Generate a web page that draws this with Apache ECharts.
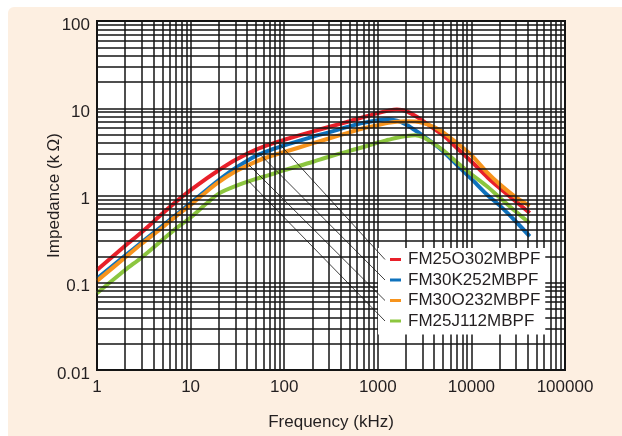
<!DOCTYPE html>
<html>
<head>
<meta charset="utf-8">
<script src="https://cdn.jsdelivr.net/npm/echarts@6/dist/echarts.min.js"></script>
<style>
html,body{margin:0;padding:0;background:#fff;}
#bg{position:absolute;left:8px;top:7px;width:614px;height:429px;background:#fdefe1;border-top-left-radius:6px;}
#chart{position:absolute;left:0;top:0;width:622px;height:436px;}
</style>
</head>
<body>
<div id="bg"></div>
<div id="chart"></div>
<script>
// ---- data ----
const freq   = [1, 2, 3, 5, 7, 10, 15, 20, 30, 50, 70, 100, 200, 300, 500, 700, 1000, 1300, 1600, 2000, 2500, 3000, 4000, 5000, 7000, 10000, 15000, 20000, 30000, 42000];
const red    = [0.14, 0.265, 0.38, 0.62, 0.85, 1.15, 1.58, 1.95, 2.55, 3.35, 3.85, 4.35, 5.4, 6.1, 7.1, 7.9, 8.8, 9.4, 9.7, 9.3, 8.2, 7.2, 5.8, 4.9, 3.5, 2.45, 1.6, 1.22, 0.85, 0.63];
const blue   = [0.112, 0.205, 0.29, 0.45, 0.6, 0.82, 1.17, 1.5, 2.05, 2.85, 3.3, 3.75, 4.7, 5.3, 6.2, 6.8, 7.3, 7.5, 7.2, 6.5, 5.6, 4.9, 3.9, 3.2, 2.25, 1.55, 1.0, 0.77, 0.5, 0.34];
const orange = [0.105, 0.195, 0.28, 0.43, 0.58, 0.78, 1.12, 1.42, 1.88, 2.45, 2.8, 3.15, 3.95, 4.5, 5.3, 5.9, 6.4, 6.8, 7.0, 7.1, 7.05, 6.8, 6.1, 5.3, 4.0, 2.9, 1.8, 1.35, 0.95, 0.76];
const green  = [0.076, 0.14, 0.195, 0.31, 0.42, 0.56, 0.82, 1.05, 1.28, 1.55, 1.72, 1.95, 2.42, 2.78, 3.25, 3.6, 4.05, 4.35, 4.6, 4.8, 4.92, 4.7, 3.9, 3.3, 2.4, 1.75, 1.25, 0.95, 0.65, 0.48];
const names  = ['FM25O302MBPF', 'FM30K252MBPF', 'FM30O232MBPF', 'FM25J112MBPF'];
const colors = ['#e8202a', '#0f72bd', '#f7941d', '#8cc63f'];
const leaderFreq = [85, 55, 42, 42];
const xTicks = [1, 10, 100, 1000, 10000, 100000];
const yTicks = [0.01, 0.1, 1, 10, 100];
const xTitle = 'Frequency (kHz)';
const yTitle = 'Impedance (k\u2009\u03A9)';

const values = [red, blue, orange, green];
const FONT = '"Liberation Sans", Arial, Helvetica, sans-serif';
const TXT = '#231f20';

// log grid lines (decades with 1..9 subdivisions)
function logLines(lo, hi) {
  const out = [];
  for (let d = lo; d < hi; d *= 10) {
    for (let k = 1; k <= 9; k++) out.push(+(d * k).toPrecision(6));
  }
  out.push(hi);
  return out;
}
const gridX = logLines(xTicks[0], xTicks[xTicks.length - 1]);
const gridY = logLines(yTicks[0], yTicks[yTicks.length - 1]);

const GRID = {left: 97, top: 21, width: 468, height: 353};
const LEG = {left: 378, top: 248, padTop: 3, rowH: 17, gap: 3.5};

const fmt = v => String(+(+v).toPrecision(6));

const chart = echarts.init(document.getElementById('chart'), null, {renderer: 'canvas'});
const series = values.map((arr, i) => ({
  name: names[i],
  type: 'line',
  data: freq.map((f, j) => [f, arr[j]]),
  showSymbol: false,
  symbol: 'none',
  smooth: 0.3,
  lineStyle: {color: colors[i], width: 4},
  itemStyle: {color: colors[i]},
  z: 3,
  animation: false
}));
series.push({
  type: 'line',
  name: '__grid',
  data: [[1, 1]],
  symbol: 'none',
  lineStyle: {width: 0, opacity: 0},
  silent: true,
  z: 1,
  animation: false,
  markLine: {
    silent: true,
    symbol: ['none', 'none'],
    label: {show: false},
    animation: false,
    lineStyle: {color: '#151515', width: 1.5, type: 'solid'},
    data: gridX.map(v => ({xAxis: v})).concat(gridY.map(v => ({yAxis: v})))
  }
});

chart.setOption({
  animation: false,
  textStyle: {fontFamily: FONT},
  grid: Object.assign({show: true, backgroundColor: '#fff', borderColor: '#151515', borderWidth: 2, containLabel: false}, GRID),
  xAxis: {
    type: 'log', logBase: 10, min: xTicks[0], max: xTicks[xTicks.length - 1],
    axisLine: {show: false}, axisTick: {show: false}, splitLine: {show: false},
    axisLabel: {color: TXT, fontSize: 17, fontFamily: FONT, margin: 9, formatter: fmt, showMinLabel: true, showMaxLabel: true},
    name: xTitle, nameLocation: 'middle', nameGap: 44, nameMoveOverlap: false,
    nameTextStyle: {color: TXT, fontSize: 17, fontFamily: FONT}
  },
  yAxis: {
    type: 'log', logBase: 10, min: yTicks[0], max: yTicks[yTicks.length - 1],
    axisLine: {show: false}, axisTick: {show: false}, splitLine: {show: false},
    axisLabel: {color: TXT, fontSize: 17, fontFamily: FONT, margin: 7, formatter: fmt, verticalAlign: 'top', lineHeight: 8, showMinLabel: true, showMaxLabel: true},
    name: yTitle, nameLocation: 'middle', nameGap: 34, nameRotate: 90, nameMoveOverlap: false,
    nameTextStyle: {color: TXT, fontSize: 17, fontFamily: FONT}
  },
  legend: {
    data: names,
    orient: 'vertical',
    left: LEG.left, top: LEG.top,
    z: 50,
    padding: [LEG.padTop, 5, 5, 12],
    itemGap: LEG.gap,
    icon: 'rect', itemWidth: 11, itemHeight: 3,
    backgroundColor: '#fff',
    textStyle: {color: TXT, fontSize: 17, lineHeight: LEG.rowH, fontFamily: FONT, padding: [0, 0, 0, 2]},
    selectedMode: false
  },
  series: series
});

// leader lines from each curve to its legend entry
function interpLog(arr, f) {
  const lf = Math.log10(f);
  for (let j = 0; j < freq.length - 1; j++) {
    const a = Math.log10(freq[j]), b = Math.log10(freq[j + 1]);
    if (lf >= a && lf <= b) {
      const t = (lf - a) / (b - a);
      return Math.pow(10, Math.log10(arr[j]) * (1 - t) + Math.log10(arr[j + 1]) * t);
    }
  }
  return arr[arr.length - 1];
}
const leaders = values.map((arr, i) => {
  const p = chart.convertToPixel({gridIndex: 0}, [leaderFreq[i], interpLog(arr, leaderFreq[i])]);
  const ey = LEG.top + LEG.padTop + LEG.rowH / 2 + i * (LEG.rowH + LEG.gap);
  return {
    type: 'line', z: 100, silent: true,
    shape: {x1: p[0], y1: p[1], x2: LEG.left + 7, y2: ey},
    style: {stroke: '#111', lineWidth: 0.8}
  };
});
chart.setOption({graphic: leaders});
</script>
</body>
</html>
